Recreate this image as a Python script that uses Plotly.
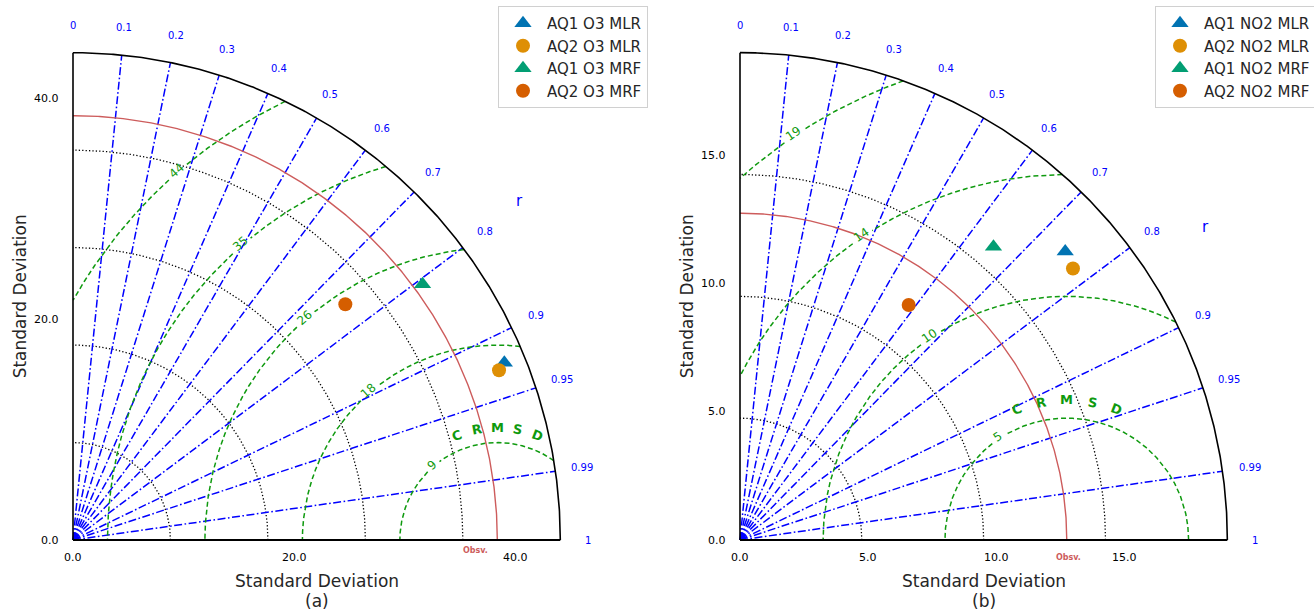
import numpy as np
import plotly.graph_objects as go

# ---------------- data ----------------
names_a = ["AQ1 O3 MLR", "AQ2 O3 MLR", "AQ1 O3 MRF", "AQ2 O3 MRF"]
std_a = [42.2, 41.5, 39.2, 32.6]
corr_a = [0.925, 0.929, 0.807, 0.756]
obs_std_a = 38.4
max_std_a = 44.1
std_ticks_a = [0.0, 20.0, 40.0]
std_grid_a = [8.82, 17.64, 26.46, 35.28]
crmsd_a = [8.82, 17.64, 26.46, 35.28, 44.1]
crmsd_labels_a = ["9", "18", "26", "35", "44"]

names_b = ["AQ1 NO2 MLR", "AQ2 NO2 MLR", "AQ1 NO2 MRF", "AQ2 NO2 MRF"]
std_b = [16.95, 16.75, 15.11, 11.28]
corr_b = [0.748, 0.775, 0.654, 0.583]
obs_std_b = 12.74
max_std_b = 19.0
std_ticks_b = [0.0, 5.0, 10.0, 15.0]
std_grid_b = [4.75, 9.5, 14.25]
crmsd_b = [4.75, 9.5, 14.25, 19.0]
crmsd_labels_b = ["5", "10", "14", "19"]

corr_ticks = [0, 0.1, 0.2, 0.3, 0.4, 0.5, 0.6, 0.7, 0.8, 0.9, 0.95, 0.99, 1]
corr_tick_labels = ["0", "0.1", "0.2", "0.3", "0.4", "0.5", "0.6", "0.7",
                    "0.8", "0.9", "0.95", "0.99", "1"]

symbols = ["triangle-up", "circle", "triangle-up", "circle"]
colors = ["#0173b2", "#de8f05", "#029e73", "#d55e00"]

# ---------------- layout constants ----------------
W, H = 1314, 611
FONT = "DejaVu Sans"
TXT = "#262626"
GREEN = "#0f9a0f"
RED = "#cd5c5c"

panels = [
    dict(xa="x", ya="y", ox=73, oy=540, k=11.05, px0=0, px1=657,
         names=names_a, std=std_a, corr=corr_a, obs=obs_std_a, rmax=max_std_a,
         ticks=std_ticks_a, grid=std_grid_a, crmsd=crmsd_a, clbl=crmsd_labels_a,
         legend="legend", letter="(a)", lbl_ang=131, r_ang=37.2, obs_shift=(-22, -10)),
    dict(xa="x2", ya="y2", ox=740, oy=540, k=25.65, px0=657, px1=1314,
         names=names_b, std=std_b, corr=corr_b, obs=obs_std_b, rmax=max_std_b,
         ticks=std_ticks_b, grid=std_grid_b, crmsd=crmsd_b, clbl=crmsd_labels_b,
         legend="legend2", letter="(b)", lbl_ang=124, r_ang=33.9, obs_shift=(2, -17)),
]

fig = go.Figure()
annotations = []


def ann(**kw):
    kw.setdefault("showarrow", False)
    kw.setdefault("xanchor", "center")
    kw.setdefault("yanchor", "middle")
    annotations.append(kw)


def line(P, x, y, color, width, dash="solid"):
    fig.add_trace(go.Scatter(x=x, y=y, mode="lines", xaxis=P["xa"], yaxis=P["ya"],
                             line=dict(color=color, width=width, dash=dash),
                             hoverinfo="skip", showlegend=False))


for P in panels:
    R = P["rmax"]
    k = P["k"]
    th = np.linspace(0, np.pi / 2, 400)
    # std grid (dotted)
    for g in P["grid"]:
        line(P, g * np.cos(th), g * np.sin(th), "black", 1.3, "1.3px,2.1px")
    # correlation lines
    for c in corr_ticks:
        if 0 < c < 1:
            s = np.sqrt(1 - c * c)
            line(P, [0, R * c], [0, R * s], "blue", 1.5, "8px,2.5px,1.6px,2.5px")
    # CRMSD contours with inline label gaps
    obs = P["obs"]
    ang = np.radians(P["lbl_ang"])
    for c, lab in zip(P["crmsd"], P["clbl"]):
        t = np.linspace(0, np.pi, 4000)
        x = obs + c * np.cos(t)
        y = c * np.sin(t)
        half = (3.8 * len(lab) + 4) / (c * k)
        mask = (x >= 0) & (x * x + y * y <= R * R * (1 + 1e-9)) & (np.abs(t - ang) > half)
        xs = [float(a) if m else None for a, m in zip(x, mask)]
        ys = [float(b) if m else None for b, m in zip(y, mask)]
        line(P, xs, ys, GREEN, 1.5, "5px,3px")
        rr = c + 2.0 / k
        ann(x=obs + rr * np.cos(ang), y=rr * np.sin(ang), xref=P["xa"], yref=P["ya"],
            text=lab, textangle=90 - P["lbl_ang"],
            font=dict(size=12, color=GREEN, family=FONT))
    # CRMSD title letters
    rl = 1.15 * P["crmsd"][0]
    for ch, a in zip("CRMSD", [111, 100.5, 90, 79.5, 69]):
        ar = np.radians(a)
        ann(x=obs + rl * np.cos(ar), y=rl * np.sin(ar), xref=P["xa"], yref=P["ya"],
            text="<b>%s</b>" % ch, textangle=90 - a,
            font=dict(size=13, color=GREEN, family=FONT))
    # observation arc
    line(P, obs * np.cos(th), obs * np.sin(th), RED, 1.4)
    ann(x=obs, y=0, xref=P["xa"], yref=P["ya"], text="<b>Obsv.</b>",
        xshift=P["obs_shift"][0], yshift=P["obs_shift"][1],
        font=dict(size=8, color=RED, family=FONT))
    # outer circle and axes
    line(P, R * np.cos(th), R * np.sin(th), "black", 1.6)
    line(P, [0, R], [0, 0], "black", 1.8)
    line(P, [0, 0], [0, R], "black", 1.6)
    # std tick labels
    for v in P["ticks"]:
        ann(x=v, y=0, xref=P["xa"], yref=P["ya"], text="%.1f" % v, yshift=-17,
            font=dict(size=11, color="black", family=FONT))
        ann(x=0, y=v, xref=P["xa"], yref=P["ya"], text="%.1f" % v,
            xanchor="right", xshift=-12,
            font=dict(size=11, color="black", family=FONT))
    # correlation tick labels
    for c, lab in zip(corr_ticks, corr_tick_labels):
        s = np.sqrt(1 - c * c)
        ann(x=1.056 * R * c, y=1.056 * R * s, xref=P["xa"], yref=P["ya"], text=lab,
            font=dict(size=10, color="blue", family=FONT))
    ra = np.radians(P["r_ang"])
    ann(x=1.15 * R * np.cos(ra), y=1.15 * R * np.sin(ra), xref=P["xa"], yref=P["ya"],
        text="r", font=dict(size=15, color="blue", family=FONT))
    # data markers
    for nm, sd, cc, sym, col in zip(P["names"], P["std"], P["corr"], symbols, colors):
        fig.add_trace(go.Scatter(x=[sd * cc], y=[sd * np.sqrt(1 - cc * cc)], mode="markers",
                                 name=nm, xaxis=P["xa"], yaxis=P["ya"], legend=P["legend"],
                                 marker=dict(symbol=sym, color=col,
                                             size=15 if sym == "triangle-up" else 14,
                                             line=dict(width=0))))
    # axis titles
    cx = (P["ox"] + R * k / 2) / W
    ann(x=cx, y=1 - 581 / H, xref="paper", yref="paper", text="Standard Deviation",
        font=dict(size=17, color=TXT, family=FONT))
    ann(x=cx, y=1 - 601 / H, xref="paper", yref="paper", text=P["letter"],
        font=dict(size=17, color=TXT, family=FONT))
    ann(x=(P["ox"] - 53) / W, y=1 - (P["oy"] - R * k / 2) / H, xref="paper", yref="paper",
        text="Standard Deviation", textangle=-90,
        font=dict(size=17, color=TXT, family=FONT))


def axes(P):
    k = P["k"]
    xr = [(P["px0"] - P["ox"]) / k, (P["px1"] - P["ox"]) / k]
    yr = [(P["oy"] - H) / k, P["oy"] / k]
    xd = [P["px0"] / W, P["px1"] / W]
    return (dict(domain=xd, range=xr, visible=False, fixedrange=True),
            dict(domain=[0, 1], range=yr, visible=False, fixedrange=True))


xa1, ya1 = axes(panels[0])
xa2, ya2 = axes(panels[1])
ya1["anchor"] = "x"
xa1["anchor"] = "y"
ya2["anchor"] = "x2"
xa2["anchor"] = "y2"

legend_style = dict(yanchor="top", xanchor="left", y=1 - 6 / H, itemwidth=38,
                    bordercolor="#d0d0d0", borderwidth=1, bgcolor="rgba(255,255,255,0.85)",
                    font=dict(size=15, color=TXT, family=FONT))

fig.update_layout(
    width=W, height=H, autosize=False,
    margin=dict(l=0, r=0, t=0, b=0, autoexpand=False),
    plot_bgcolor="white", paper_bgcolor="white",
    font=dict(family=FONT, color=TXT),
    xaxis=xa1, yaxis=ya1, xaxis2=xa2, yaxis2=ya2,
    legend=dict(x=498 / W, **legend_style),
    legend2=dict(x=1155 / W, **legend_style),
    annotations=annotations,
    showlegend=True,
)

fig.write_html("out.html")
